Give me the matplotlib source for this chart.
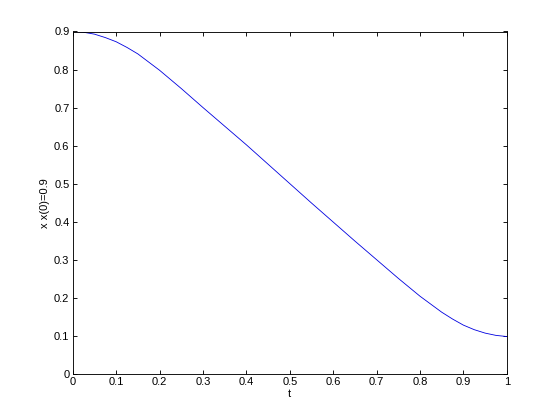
import numpy as np
from matplotlib import pyplot as plt

# values
t = [0, 0.025, 0.05, 0.075, 0.1, 0.125, 0.15, 0.2, 0.25, 0.3, 0.35, 0.4, 0.45, 0.5,
     0.55, 0.6, 0.65, 0.7, 0.75, 0.8, 0.85, 0.875, 0.9, 0.925, 0.95, 0.975, 1.0]
x = [0.9, 0.898, 0.893, 0.884, 0.873, 0.858, 0.841, 0.798, 0.75, 0.70, 0.651, 0.602, 0.551, 0.50,
     0.449, 0.399, 0.349, 0.30, 0.251, 0.204, 0.162, 0.144, 0.128, 0.116, 0.107, 0.101, 0.098]

xticks = np.arange(0, 1.01, 0.1)
yticks = np.arange(0, 0.91, 0.1)

plt.rcParams['font.family'] = ['Liberation Sans', 'DejaVu Sans']
plt.rcParams['font.size'] = 10

fig = plt.figure(figsize=(7, 5.25), dpi=80)
ax = fig.add_axes([0.13, 0.11, 0.775, 0.815])
ax.plot(t, x, color='#0000e0', linewidth=0.75)

ax.set_xlim(0, 1)
ax.set_ylim(0, 0.9)
ax.set_xticks(xticks)
ax.set_yticks(yticks)
ax.set_xticklabels(['0', '0.1', '0.2', '0.3', '0.4', '0.5', '0.6', '0.7', '0.8', '0.9', '1'])
ax.set_yticklabels(['0', '0.1', '0.2', '0.3', '0.4', '0.5', '0.6', '0.7', '0.8', '0.9'])
ax.tick_params(direction='in', top=True, right=True, length=4, width=0.8, pad=3)
for s in ax.spines.values():
    s.set_linewidth(0.8)

ax.set_xlabel('t', labelpad=2)
ax.set_ylabel('x x(0)=0.9', labelpad=4)

plt.savefig('out.png', dpi=80)
